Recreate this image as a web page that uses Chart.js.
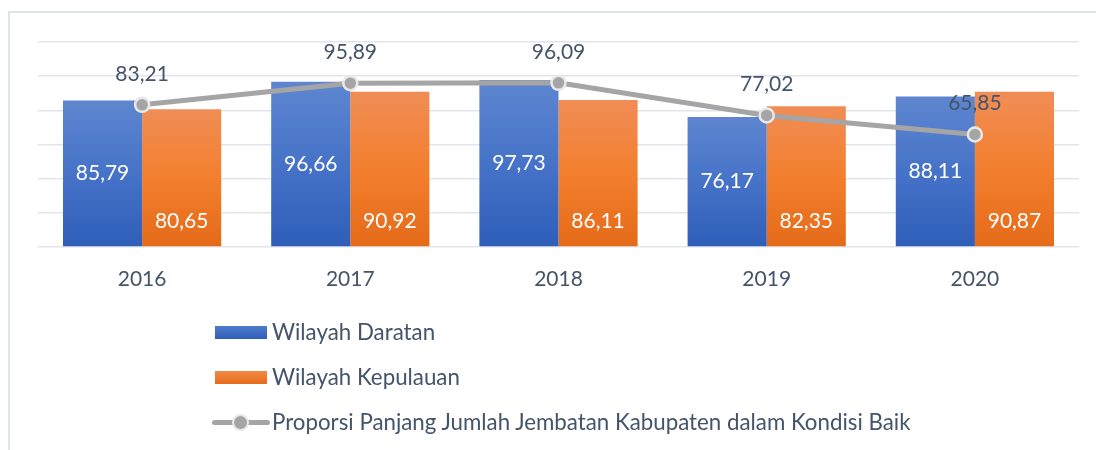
<!DOCTYPE html>
<html>
<head>
<meta charset="utf-8">
<script src="https://cdn.jsdelivr.net/npm/chart.js@4/dist/chart.umd.min.js"></script>
<style>
  html, body { margin: 0; padding: 0; background: #fff; }
  #wrap { position: relative; width: 1096px; height: 450px; overflow: hidden; }
  #frame { position: absolute; left: 8px; top: 11px; width: 1100px; height: 450px;
           border-top: 2px solid #DDE3EA; border-left: 2px solid #DDE3EA; }
  canvas { position: absolute; left: 0; top: 0; }
  .leg { position: absolute; left: 212px; font: 22.3px Lato, sans-serif; color: #44546A; }
  .leg .item { position: absolute; left: 0; height: 24px; white-space: nowrap; }
  .leg .box { position: absolute; left: 3px; top: 5px; width: 52px; height: 13px; }
  .leg .txt { position: absolute; left: 60px; top: -3px; }
</style>
</head>
<body>
<div id="wrap">
  <div id="frame"></div>
  <canvas id="myChart" width="1096" height="450"></canvas>
  <div class="leg" id="legend"></div>
</div>
<script>
const years = ["2016", "2017", "2018", "2019", "2020"];
const daratan = [85.79, 96.66, 97.73, 76.17, 88.11];
const kepulauan = [80.65, 90.92, 86.11, 82.35, 90.87];
const proporsi = [83.21, 95.89, 96.09, 77.02, 65.85];
const yTicks = [0, 20, 40, 60, 80, 100, 120];
const seriesNames = [
  "Wilayah Daratan",
  "Wilayah Kepulauan",
  "Proporsi Panjang Jumlah Jembatan Kabupaten dalam Kondisi Baik",
];

const FONT = "Lato, sans-serif";
const TXT = "#44546A";
const fmt = (v) => v.toFixed(2).replace(".", ",");

//------------------------------------------
// per-bar vertical gradient, like the office style bars
function barGradient(top, mid, bottom) {
  return (c) => {
    const chart = c.chart;
    if (!chart.chartArea || c.parsed == null || !chart.scales.y) return mid;
    const y = chart.scales.y;
    const y0 = y.getPixelForValue(c.parsed.y);
    const y1 = y.getPixelForValue(0);
    if (!isFinite(y0) || !isFinite(y1) || y0 === y1) return mid;
    const g = chart.ctx.createLinearGradient(0, y0, 0, y1);
    g.addColorStop(0, top);
    g.addColorStop(0.5, mid);
    g.addColorStop(1, bottom);
    return g;
  };
}

//------------------------------------------
const valueLabels = {
  id: "valueLabels",
  afterDatasetsDraw(chart) {
    const ctx = chart.ctx;
    ctx.save();
    ctx.font = "21px " + FONT;
    ctx.textAlign = "center";
    ctx.textBaseline = "middle";
    chart.getDatasetMeta(0).data.forEach((el, i) => {
      ctx.fillStyle = "#ffffff";
      ctx.fillText(fmt(daratan[i]), el.x, (el.y + el.base) / 2);
    });
    chart.getDatasetMeta(1).data.forEach((el, i) => {
      ctx.fillStyle = "#ffffff";
      ctx.fillText(fmt(kepulauan[i]), el.x, el.base - 25);
    });
    chart.getDatasetMeta(2).data.forEach((el, i) => {
      ctx.fillStyle = TXT;
      ctx.fillText(fmt(proporsi[i]), el.x, el.y - 31);
    });
    ctx.restore();
  },
};

//------------------------------------------
const ctx = document.getElementById("myChart");
const myChart = new Chart(ctx, {
  data: {
    labels: years,
    datasets: [
      {
        type: "bar",
        label: seriesNames[0],
        data: daratan,
        backgroundColor: barGradient("#5E86D0", "#4673C8", "#2F5EB9"),
        order: 2,
        categoryPercentage: 0.76,
        barPercentage: 1,
      },
      {
        type: "bar",
        label: seriesNames[1],
        data: kepulauan,
        backgroundColor: barGradient("#F08D56", "#F37F2E", "#E46A18"),
        order: 2,
        categoryPercentage: 0.76,
        barPercentage: 1,
      },
      {
        type: "line",
        label: seriesNames[2],
        data: proporsi,
        borderColor: "#A5A5A5",
        borderWidth: 5,
        pointRadius: 7,
        pointBackgroundColor: "#A5A5A5",
        pointBorderColor: "#E9E9E9",
        pointBorderWidth: 2.5,
        tension: 0,
        order: 0,
      },
    ],
  },
  options: {
    responsive: false,
    animation: false,
    layout: { padding: { left: 38, right: 17, top: 42, bottom: 153 } },
    plugins: { legend: { display: false }, tooltip: { enabled: false } },
    scales: {
      x: {
        grid: { display: false, drawTicks: false },
        border: { display: false },
        ticks: { color: TXT, font: { family: FONT, size: 21 }, padding: 20 },
        afterFit(scale) { scale.height = 50; },
      },
      y: {
        min: 0,
        max: 120,
        afterBuildTicks(scale) { scale.ticks = yTicks.map((v) => ({ value: v })); },
        grid: { color: "#E1E5EB", lineWidth: 1.5, drawTicks: false },
        border: { display: false },
        ticks: { display: false },
        afterFit(scale) { scale.width = 0; },
      },
    },
  },
  plugins: [valueLabels],
});

//------------------------------------------
// legend, stacked vertically like the original
const legend = document.getElementById("legend");
const legendTops = [321, 366, 411];
const boxFills = [
  "linear-gradient(#4F7BCB, #2F5EB9)",
  "linear-gradient(#F48A45, #E56C1C)",
];
seriesNames.forEach((name, i) => {
  const item = document.createElement("div");
  item.className = "item";
  item.style.top = legendTops[i] + "px";
  if (i < 2) {
    item.innerHTML = '<div class="box" style="background:' + boxFills[i] + '"></div>';
  } else {
    item.innerHTML =
      '<div style="position:absolute;left:0;top:9px;width:58px;height:5px;background:#A5A5A5;border-radius:3px"></div>' +
      '<div style="position:absolute;left:20px;top:3px;width:17px;height:17px;border-radius:50%;background:#A5A5A5;border:2px solid #E9E9E9;box-sizing:border-box"></div>';
  }
  const t = document.createElement("span");
  t.className = "txt";
  t.textContent = name;
  item.appendChild(t);
  legend.appendChild(item);
});
</script>
</body>
</html>
